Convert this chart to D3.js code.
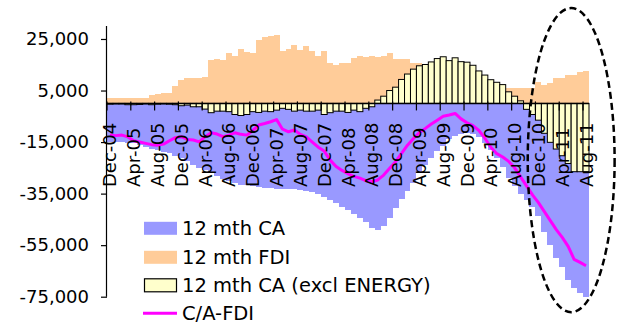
<!DOCTYPE html>
<html>
<head>
<meta charset="utf-8">
<script src="https://cdn.jsdelivr.net/npm/d3@7"></script>
<style>
  html, body { margin: 0; padding: 0; background: #fff; }
  svg { display: block; }
  text { font-family: "DejaVu Sans", Verdana, sans-serif; fill: #000; }
</style>
</head>
<body>
<svg id="chart" width="618" height="325"></svg>
<script>
// ---------------- DATA ----------------
const categories = [
  "Dec-04",
  "Jan-05","Feb-05","Mar-05","Apr-05","May-05","Jun-05","Jul-05","Aug-05","Sep-05","Oct-05","Nov-05","Dec-05",
  "Jan-06","Feb-06","Mar-06","Apr-06","May-06","Jun-06","Jul-06","Aug-06","Sep-06","Oct-06","Nov-06","Dec-06",
  "Jan-07","Feb-07","Mar-07","Apr-07","May-07","Jun-07","Jul-07","Aug-07","Sep-07","Oct-07","Nov-07","Dec-07",
  "Jan-08","Feb-08","Mar-08","Apr-08","May-08","Jun-08","Jul-08","Aug-08","Sep-08","Oct-08","Nov-08","Dec-08",
  "Jan-09","Feb-09","Mar-09","Apr-09","May-09","Jun-09","Jul-09","Aug-09","Sep-09","Oct-09","Nov-09","Dec-09",
  "Jan-10","Feb-10","Mar-10","Apr-10","May-10","Jun-10","Jul-10","Aug-10","Sep-10","Oct-10","Nov-10","Dec-10",
  "Jan-11","Feb-11","Mar-11","Apr-11","May-11","Jun-11","Jul-11","Aug-11"
];

// 12 mth CA
const caValues = [
  -15000,-15000,-15000,-15200,-15500,-16300,-16900,-17500,-18200,-18800,-19400,-20300,-21300,
  -22500,-23800,-25000,-25800,-27000,-28000,-29200,-30000,-30800,-31500,-31800,-32200,
  -32500,-32800,-33000,-33100,-33200,-33300,-33300,-33600,-34000,-34500,-35300,-36300,
  -37500,-38800,-40200,-41500,-43000,-44500,-46000,-48300,-49000,-47500,-44500,-40500,
  -37000,-34000,-31000,-27000,-24000,-21000,-18500,-16500,-14000,-12500,-11800,-11600,
  -11800,-13000,-15500,-18000,-21000,-24500,-29000,-32000,-35000,-37500,-40000,-43500,
  -50000,-55000,-60000,-63500,-68500,-71700,-73600,-75000
];

// 12 mth FDI
const fdiValues = [
  2200,2200,2200,2200,2200,2200,2200,3200,3600,4000,4000,6700,9000,
  9900,9900,9900,10300,17000,17300,16800,19500,18300,21000,20000,19500,
  24500,25600,26100,26500,20400,21000,22600,20700,22200,20300,18500,20300,
  15700,15000,15600,15600,17600,18300,17900,18300,17900,18500,19500,17300,
  17300,17300,15600,15600,14300,13000,12000,11500,9500,8600,5800,4100,
  3200,2500,2000,1000,1500,3700,5800,5800,5800,5800,5800,8400,
  7100,7800,9700,9700,11000,11000,12200,12600
];

// 12 mth CA (excl ENERGY)
const caExEnergyValues = [
  -300,-200,-200,-500,-500,-400,-200,-500,-300,-200,-300,-500,-900,
  -650,-1300,-1300,-2200,-3600,-3000,-3000,-3200,-4300,-4700,-4300,-3200,
  -3500,-3000,-3200,-2600,-1900,-2300,-3000,-2600,-3000,-3000,-2600,-4300,
  -3600,-3000,-3000,-3500,-2600,-3200,-1900,-1300,1300,2800,5000,6300,
  9300,11400,13300,14600,15100,16100,17400,18100,16600,17700,16200,16000,
  14800,12600,11000,9200,8200,7300,4500,2800,1000,-2300,-4300,-6500,
  -11600,-15100,-17700,-20300,-23300,-26500,-26500,-26500
];

// C/A-FDI
const netValues = [
  -12300,-12500,-12300,-13000,-14500,-15000,-15500,-16000,-16200,-15800,-14500,-13300,-12900,
  -14000,-14200,-14900,-12900,-11400,-11900,-12900,-12300,-11400,-12000,-12300,-10500,
  -8400,-7800,-7100,-6300,-10000,-11000,-10300,-12000,-13000,-15000,-17000,-18500,
  -22000,-24500,-26000,-27300,-28300,-29000,-30000,-30400,-29700,-27800,-25200,-22600,
  -19400,-16200,-13600,-11300,-9700,-8000,-6500,-5000,-4500,-3900,-6000,-7500,
  -8600,-10500,-13500,-17000,-19500,-20800,-22500,-25000,-28500,-32000,-35500,-38500,
  -42000,-45500,-49000,-52000,-55500,-60500,-61700,-63000
];

const yTickValues = [-75000, -55000, -35000, -15000, 5000, 25000];
const yTickLabels = ["-75,000", "-55,000", "-35,000", "-15,000", "5,000", "25,000"];
const xLabelEvery = 4;

const seriesNames = ["12 mth CA", "12 mth FDI", "12 mth CA (excl ENERGY)", "C/A-FDI"];

// ---------------- LAYOUT / STYLE ----------------
const colors = { ca: "#9999FF", fdi: "#FFCC99", ex: "#FFFFCC", net: "#FF00FF" };

const svg = d3.select("#chart");
const plotLeft = 107, plotRight = 589, plotTop = 26.1, plotBottom = 296.7;

const x = d3.scaleBand().domain(categories).range([plotLeft, plotRight]).padding(0);
const y = d3.scaleLinear().domain([-75000, 30000]).range([plotBottom, plotTop]);
const bw = x.bandwidth();
const y0 = y(0);

function barRect(sel) {
  sel.attr("x", (d, i) => x(categories[i]))
     .attr("width", bw)
     .attr("y", d => Math.min(y(d), y0))
     .attr("height", d => Math.abs(y(d) - y0));
}

// CA bars
svg.append("g").attr("shape-rendering", "crispEdges")
  .selectAll("rect").data(caValues).join("rect")
  .call(barRect).attr("fill", colors.ca);

// FDI bars
svg.append("g").attr("shape-rendering", "crispEdges")
  .selectAll("rect").data(fdiValues).join("rect")
  .call(barRect).attr("fill", colors.fdi);

// CA excl energy bars
svg.append("g")
  .selectAll("rect").data(caExEnergyValues).join("rect")
  .call(barRect).attr("fill", colors.ex)
  .attr("stroke", "#000").attr("stroke-width", 1);

// X axis (crosses at zero)
const xAxisG = svg.append("g");
xAxisG.append("line")
  .attr("x1", plotLeft).attr("x2", plotRight)
  .attr("y1", y0).attr("y2", y0)
  .attr("stroke", "#000").attr("stroke-width", 1.5);
const tickCats = categories.filter((c, i) => i % xLabelEvery === 0);
xAxisG.selectAll("line.tick").data(tickCats).join("line")
  .attr("class", "tick")
  .attr("x1", d => x(d)).attr("x2", d => x(d))
  .attr("y1", y0 - 2).attr("y2", y0 + 7)
  .attr("stroke", "#000").attr("stroke-width", 1.2);

// Y axis
const yAxis = d3.axisLeft(y)
  .tickValues(yTickValues)
  .tickSize(6)
  .tickPadding(12)
  .tickFormat((d, i) => yTickLabels[i]);
const yAxisG = svg.append("g").attr("transform", `translate(${plotLeft},0)`).call(yAxis);
yAxisG.select(".domain")
  .attr("d", `M-0.5,${plotBottom}V${plotTop}`)
  .attr("stroke", "#000").attr("stroke-width", 1.2);
yAxisG.selectAll(".tick line").attr("stroke", "#000").attr("stroke-width", 1.2);
yAxisG.selectAll(".tick text")
  .style("font-family", '"DejaVu Sans", Verdana, sans-serif')
  .style("font-size", "18px").attr("fill", "#000");

// C/A-FDI line
const line = d3.line()
  .x((d, i) => x(categories[i]) + bw / 2)
  .y(d => y(d));
svg.append("path").datum(netValues)
  .attr("d", line)
  .attr("fill", "none").attr("stroke", colors.net)
  .attr("stroke-width", 3).attr("stroke-linejoin", "round");

// X labels (rotated)
svg.append("g").selectAll("text").data(tickCats).join("text")
  .attr("transform", d => `translate(${x(d) + bw / 2},187) rotate(-90)`)
  .attr("text-anchor", "start")
  .attr("dominant-baseline", "central")
  .style("font-size", "18px")
  .text(d => d);

// Legend
const legend = svg.append("g");
const legendX = 144, legendRows = [228.3, 257.3, 285.3, 313.3];
const swW = 33, swH = 13;
legend.append("rect").attr("x", legendX).attr("y", legendRows[0] - swH / 2)
  .attr("width", swW).attr("height", swH).attr("fill", colors.ca);
legend.append("rect").attr("x", legendX).attr("y", legendRows[1] - swH / 2)
  .attr("width", swW).attr("height", swH).attr("fill", colors.fdi);
legend.append("rect").attr("x", legendX + 0.5).attr("y", legendRows[2] - swH / 2)
  .attr("width", swW - 1).attr("height", swH).attr("fill", colors.ex)
  .attr("stroke", "#000").attr("stroke-width", 1.2);
legend.append("line").attr("x1", legendX - 1).attr("x2", legendX + swW)
  .attr("y1", legendRows[3]).attr("y2", legendRows[3])
  .attr("stroke", colors.net).attr("stroke-width", 3);
legend.selectAll("text").data(seriesNames).join("text")
  .attr("x", 182).attr("y", (d, i) => legendRows[i])
  .attr("dominant-baseline", "central")
  .style("font-size", "19.5px")
  .text(d => d);

// Dashed ellipse annotation, placed in data units
const annot = { centerCat: "May-11", centerValue: -22000, halfCats: 7.3, halfValue: 59000 };
const cx = x(annot.centerCat) + bw / 2 + 3;
const cy = y(annot.centerValue);
svg.append("ellipse")
  .attr("cx", cx).attr("cy", cy)
  .attr("rx", annot.halfCats * bw)
  .attr("ry", y0 - y(annot.halfValue))
  .attr("fill", "none").attr("stroke", "#000")
  .attr("stroke-width", 2.5).attr("stroke-dasharray", "7,4");
</script>
</body>
</html>
